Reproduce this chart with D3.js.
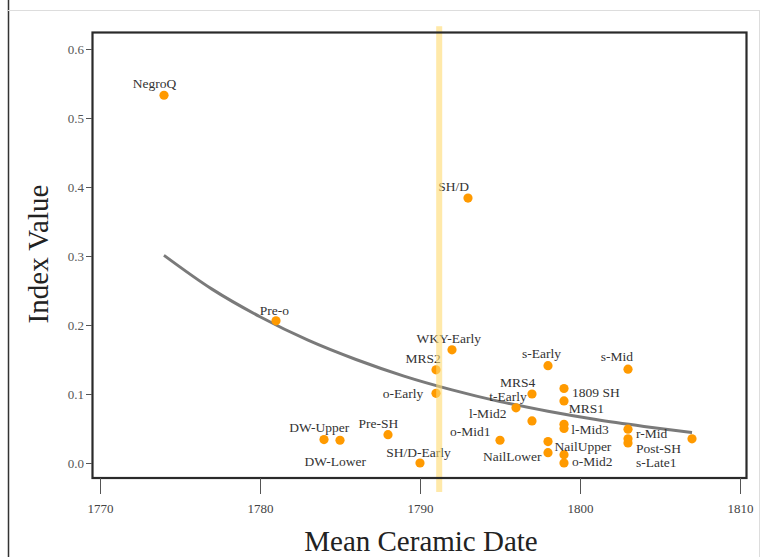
<!DOCTYPE html>
<html><head><meta charset="utf-8">
<script src="https://cdn.jsdelivr.net/npm/d3@7"></script>
<style>body{margin:0;background:#fff}svg{display:block}</style>
</head><body>
<script>
// ---- data ----
const years  = [1774,1793,1781,1792,1791,1791,1798,1803,1797,1799,1799,1796,1797,1799,1799,1795,1798,1798,1799,1799,1803,1803,1803,1807,1790,1788,1784,1785];
const values = [0.533,0.384,0.206,0.164,0.135,0.101,0.141,0.136,0.100,0.108,0.090,0.080,0.061,0.056,0.050,0.033,0.031,0.015,0.012,0.000,0.049,0.035,0.029,0.035,0.000,0.041,0.034,0.033];
const labelText = ["NegroQ","SH/D","Pre-o","WKY-Early","MRS2","o-Early","s-Early","s-Mid","MRS4","t-Early","1809 SH","MRS1","l-Mid2","l-Mid3","o-Mid1","NailUpper","NailLower","o-Mid2","r-Mid","Post-SH","s-Late1","DW-Upper","Pre-SH","DW-Lower","SH/D-Early"];
const labelX = [1773.4,1792.1,1780.9,1791.8,1791.3,1790.2,1797.6,1802.3,1796.1,1795.5,1799.5,1799.3,1795.4,1799.45,1794.4,1798.4,1797.6,1799.5,1803.5,1803.5,1803.5,1783.7,1787.4,1784.7,1789.9];
const labelY = [0.551,0.401,0.222,0.181,0.152,0.101,0.159,0.154,0.117,0.097,0.103,0.080,0.072,0.049,0.046,0.024,0.010,0.003,0.043,0.022,0.001,0.052,0.058,0.003,0.016];
const labelAnchor = ["middle","middle","middle","middle","end","end","middle","middle","middle","middle","start","start","end","start","end","start","end","start","start","start","start","middle","middle","middle","middle"];
const curveYears  = [1774,1777,1780,1783,1786,1789,1792,1795,1798,1801,1804,1807];
const curveValues = [0.301,0.252,0.212,0.178,0.150,0.126,0.106,0.089,0.075,0.063,0.053,0.044];
const bandYear = 1791.2;
const bandRange = [-0.042, 0.633];
const xTicks = [1770,1780,1790,1800,1810];
const yTicks = [0,0.1,0.2,0.3,0.4,0.5,0.6];

// ---- layout ----
const W = 762, H = 557;
const svg = d3.select("body").append("svg").attr("width", W).attr("height", H);
const x = d3.scaleLinear().domain([1770,1810]).range([100,740]);
const y = d3.scaleLinear().domain([0,0.6]).range([463,49]);
const serif = "'Liberation Serif','DejaVu Serif',serif";

// outer frame
svg.append("line").attr("x1",8.5).attr("x2",8.5).attr("y1",0).attr("y2",H).attr("stroke","#333").attr("stroke-width",1.5);
svg.append("line").attr("x1",8).attr("x2",759).attr("y1",10.5).attr("y2",10.5).attr("stroke","#ddd").attr("stroke-width",1);
svg.append("line").attr("x1",759.5).attr("x2",759.5).attr("y1",10).attr("y2",H).attr("stroke","#ddd").attr("stroke-width",1);

// fitted curve
const line = d3.line().x((d,i)=>x(curveYears[i])).y(d=>y(d)).curve(d3.curveMonotoneX);
svg.append("path").datum(curveValues).attr("d",line).attr("fill","none").attr("stroke","#7a7a7a").attr("stroke-width",3);

// points
svg.append("g").selectAll("circle").data(values).join("circle")
  .attr("cx",(d,i)=>x(years[i])).attr("cy",d=>y(d)).attr("r",4.6).attr("fill","#ff9a00");

// labels
svg.append("g").selectAll("text").data(labelText).join("text")
  .attr("x",(d,i)=>x(labelX[i])).attr("y",(d,i)=>y(labelY[i])).attr("dy","0.35em")
  .attr("text-anchor",(d,i)=>labelAnchor[i])
  .attr("font-family",serif).attr("font-size",13.5).attr("fill","#333").text(d=>d);

// highlight band
svg.append("rect").attr("x",x(bandYear)-3).attr("width",6)
  .attr("y",y(bandRange[1])).attr("height",y(bandRange[0])-y(bandRange[1]))
  .attr("fill","#ffdb70").attr("opacity",0.6);

// box
svg.append("rect").attr("x",92.5).attr("y",32.5).attr("width",654).attr("height",445.5)
  .attr("fill","none").attr("stroke","#2a2a2a").attr("stroke-width",2.2);

// y axis
const yAxis = svg.append("g").attr("transform","translate(92,0)")
  .call(d3.axisLeft(y).tickValues(yTicks).tickFormat(d3.format(".1f")).tickSize(6).tickPadding(2));
yAxis.select(".domain").remove();
yAxis.selectAll("line").attr("stroke","#555");
yAxis.selectAll("text").attr("font-family",serif).attr("font-size",13).attr("fill","#555");

// x axis
const xAxis = svg.append("g").attr("transform","translate(0,478)")
  .call(d3.axisBottom(x).tickValues(xTicks).tickFormat(d3.format("d")).tickSize(16).tickPadding(10));
xAxis.select(".domain").remove();
xAxis.selectAll("line").attr("stroke","#555");
xAxis.selectAll("text").attr("font-family",serif).attr("font-size",13).attr("fill","#444");

// titles
svg.append("text").attr("x",421).attr("y",551).attr("text-anchor","middle")
  .attr("font-family",serif).attr("font-size",29).attr("fill","#222").text("Mean Ceramic Date");
svg.append("text").attr("transform","translate(48,254) rotate(-90)").attr("text-anchor","middle")
  .attr("font-family",serif).attr("font-size",29).attr("fill","#222").text("Index Value");
</script>
</body></html>
